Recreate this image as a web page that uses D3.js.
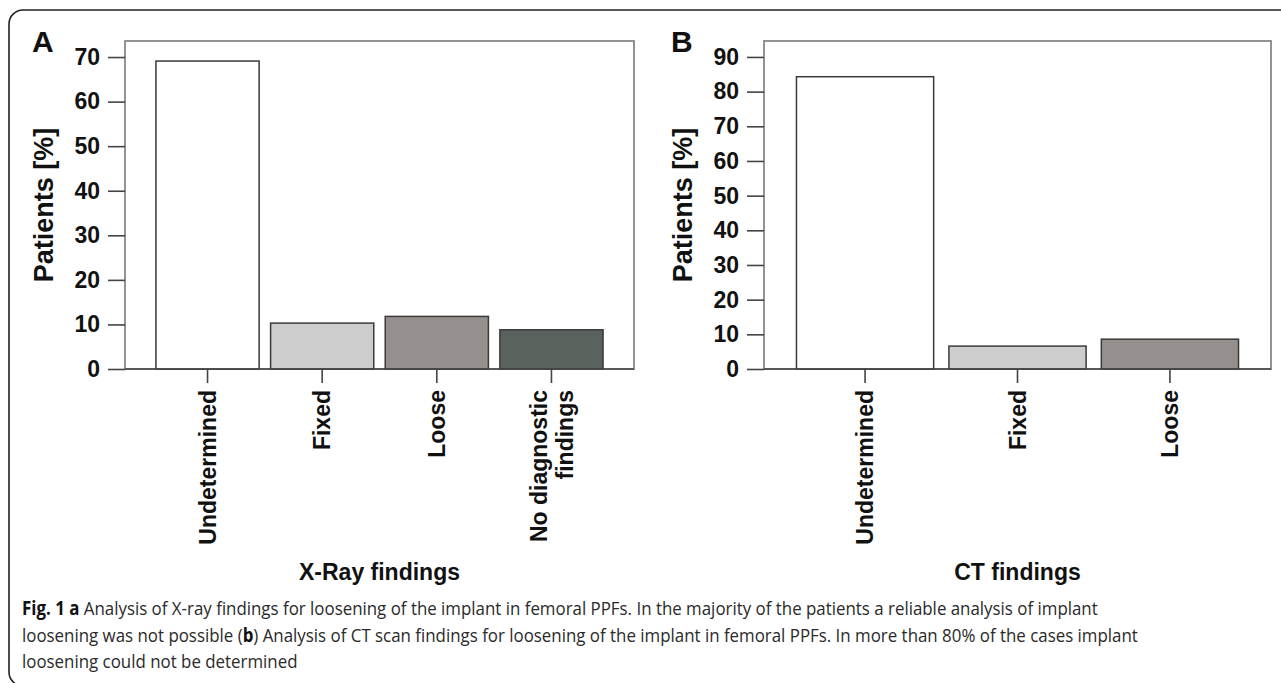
<!DOCTYPE html>
<html>
<head>
<meta charset="utf-8">
<script src="https://cdn.jsdelivr.net/npm/d3@7"></script>
<style>
  body { margin: 0; background: #fff; }
  .chart text { font-family: "Liberation Sans", Arial, sans-serif; font-weight: bold; fill: #111; }
  .caption { font-family: "Open Sans", "Noto Sans", sans-serif; font-size: 19px; fill: #2a2a2a; }
</style>
</head>
<body>
<div class="diagram"></div>
<script>
var width = 1281, height = 683;

// data
var xrayCategories = ["Undetermined", "Fixed", "Loose", "No diagnostic\nfindings"];
var xrayValues = [69.1, 10.3, 11.8, 8.8];
var xrayTicks = [0, 10, 20, 30, 40, 50, 60, 70];

var ctCategories = ["Undetermined", "Fixed", "Loose"];
var ctValues = [84.3, 6.6, 8.6];
var ctTicks = [0, 10, 20, 30, 40, 50, 60, 70, 80, 90];

var barColors = ["#ffffff", "#cdcdcd", "#958f8d", "#5a625d"];

var captionLines = [
  [["Fig. 1", true], [" ", false], ["a", true], [" Analysis of X-ray findings for loosening of the implant in femoral PPFs. In the majority of the patients a reliable analysis of implant", false]],
  [["loosening was not possible (", false], ["b", true], [") Analysis of CT scan findings for loosening of the implant in femoral PPFs. In more than 80% of the cases implant", false]],
  [["loosening could not be determined", false]]
];

var svg = d3.select('.diagram')
  .append('svg')
  .attr('width', width)
  .attr('height', height);

// outer rounded frame, runs off the right and bottom edges
svg.append('rect')
  .attr('x', 9).attr('y', 10)
  .attr('width', 1300).attr('height', 676)
  .attr('rx', 14).attr('ry', 14)
  .attr('fill', 'none')
  .attr('stroke', '#222')
  .attr('stroke-width', 1.6);

function panel(opt) {
  var g = svg.append('g').attr('class', 'chart');

  var x = d3.scaleBand()
    .domain(opt.categories)
    .range([opt.left, opt.right])
    .paddingInner(0.1)
    .paddingOuter(opt.outer);

  var y = d3.scaleLinear()
    .domain([0, opt.ymax])
    .range([369, 41]);

  // plot box
  g.append('rect')
    .attr('x', opt.left).attr('y', 41)
    .attr('width', opt.right - opt.left).attr('height', 328)
    .attr('fill', 'none')
    .attr('stroke', '#888')
    .attr('stroke-width', 1.8);

  g.selectAll('.bar')
    .data(opt.values)
    .enter()
    .append('rect')
    .attr('class', 'bar')
    .attr('x', function(d, i) { return x(opt.categories[i]); })
    .attr('width', x.bandwidth())
    .attr('y', function(d) { return y(d); })
    .attr('height', function(d) { return y(0) - y(d); })
    .attr('fill', function(d, i) { return barColors[i]; })
    .attr('stroke', '#3a3a3a')
    .attr('stroke-width', 1.5);

  var yAxis = g.append('g')
    .attr('transform', 'translate(' + opt.left + ',0)')
    .call(d3.axisLeft(y).tickValues(opt.ticks).tickSize(17).tickPadding(8).tickFormat(d3.format('d')));
  yAxis.select('.domain').remove();
  yAxis.selectAll('line').attr('stroke', '#444').attr('stroke-width', 1.6);
  yAxis.selectAll('text').attr('font-size', 23).attr('fill', '#111');

  var xAxis = g.append('g')
    .attr('transform', 'translate(0,369)')
    .call(d3.axisBottom(x).tickSize(14).tickSizeOuter(0));
  xAxis.select('.domain').attr('stroke', '#444').attr('stroke-width', 1.6)
    .attr('d', 'M' + opt.left + ',0H' + opt.right);
  xAxis.selectAll('line').attr('stroke', '#444').attr('stroke-width', 1.6);
  xAxis.selectAll('text').remove();
  xAxis.selectAll('.tick').each(function(d) {
    var lines = d.split('\n');
    var t = d3.select(this).append('text')
      .attr('transform', 'rotate(-90)')
      .attr('text-anchor', 'end')
      .attr('font-size', 23)
      .attr('fill', '#111');
    lines.forEach(function(line, i) {
      t.append('tspan')
        .attr('x', -21)
        .attr('y', (i - (lines.length - 1) / 2) * 26)
        .attr('dy', '0.36em')
        .text(line);
    });
  });

  // y axis title
  g.append('text')
    .attr('transform', 'translate(' + (opt.left - 72) + ',' + ((41 + 369) / 2) + ') rotate(-90)')
    .attr('text-anchor', 'middle')
    .attr('font-size', 27)
    .text('Patients [%]');

  // x axis title
  g.append('text')
    .attr('x', (opt.left + opt.right) / 2)
    .attr('y', 580)
    .attr('text-anchor', 'middle')
    .attr('font-size', 23)
    .text(opt.title);

  // panel letter
  g.append('text')
    .attr('x', opt.left - 93)
    .attr('y', 52)
    .attr('font-size', 30)
    .text(opt.letter);
}

panel({
  letter: 'A', title: 'X-Ray findings',
  categories: xrayCategories, values: xrayValues, ticks: xrayTicks,
  ymax: 73.6, left: 125, right: 634, outer: 0.27
});

panel({
  letter: 'B', title: 'CT findings',
  categories: ctCategories, values: ctValues, ticks: ctTicks,
  ymax: 94.6, left: 764, right: 1271, outer: 0.213
});

// caption
var cap = svg.append('g');
var texts = captionLines.map(function(parts, i) {
  var t = cap.append('text')
    .attr('class', 'caption')
    .attr('x', 0)
    .attr('y', 0)
    .attr('transform', 'translate(22,' + (615 + i * 26.5) + ')');
  parts.forEach(function(p) {
    t.append('tspan')
      .attr('font-weight', p[1] ? 'bold' : 'normal')
      .attr('fill', p[1] ? '#111' : null)
      .text(p[0]);
  });
  return t;
});
var sx = 1116 / texts[1].node().getComputedTextLength();
texts.forEach(function(t, i) {
  t.attr('transform', 'translate(22,' + (615 + i * 26.5) + ') scale(' + sx + ',1)');
});
</script>
</body>
</html>
